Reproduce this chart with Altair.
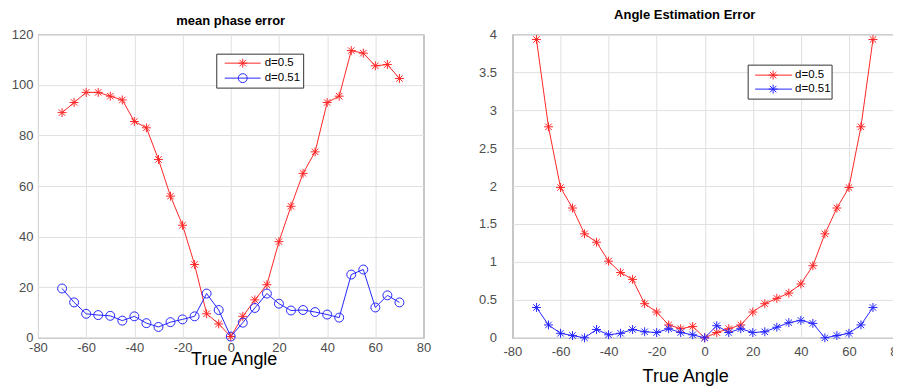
import altair as alt
import pandas as pd

# ---------------- data ----------------
angles = list(range(-70, 75, 5))
series_names = ["d=0.5", "d=0.51"]

phase_d050 = [89, 93, 97, 97, 95.5, 94, 85.5, 83, 70.5, 56, 44.5, 29, 9.5, 5.5, 0.5,
              8.5, 15, 21, 38, 52, 65, 73.5, 93, 95.5, 113.5, 112.5, 107.5, 108, 102.5]
phase_d051 = [19.5, 14, 9.5, 9, 8.7, 6.8, 8.5, 5.8, 4.3, 6.2, 7.3, 8.5, 17.5, 11, 0.5,
              6, 11.8, 17.5, 13.5, 10.8, 11, 10.2, 9.2, 8, 25, 27, 12, 16.8, 14]

est_d050 = [3.93, 2.78, 1.98, 1.71, 1.37, 1.26, 1.01, 0.86, 0.77, 0.45, 0.34, 0.17, 0.12, 0.15, 0.0,
            0.07, 0.12, 0.17, 0.34, 0.45, 0.52, 0.59, 0.71, 0.95, 1.37, 1.71, 1.98, 2.78, 3.93]
est_d051 = [0.40, 0.17, 0.06, 0.03, 0.0, 0.11, 0.04, 0.06, 0.11, 0.08, 0.07, 0.12, 0.07, 0.04, 0.0,
            0.16, 0.07, 0.12, 0.07, 0.08, 0.14, 0.20, 0.23, 0.19, 0.0, 0.03, 0.06, 0.17, 0.40]

x_ticks = list(range(-80, 81, 20))
phase_ticks = list(range(0, 121, 20))
est_ticks = [0, 0.5, 1, 1.5, 2, 2.5, 3, 3.5, 4]

# ---------------- style ----------------
RED = "#ff2626"
BLUE = "#2626ff"
STAR = "M-1,0L1,0M0,-1L0,1M-0.72,-0.72L0.72,0.72M-0.72,0.72L0.72,-0.72"
FONT = "Liberation Sans"


def long_df(a, b):
    n = len(angles)
    return pd.DataFrame({
        "angle": angles * 2,
        "value": a + b,
        "series": [series_names[0]] * n + [series_names[1]] * n,
    })


def panel(df, width, ymax, yticks, shapes, title, title_offset, title_dx,
          xlab_pad, ylab_pad, xtitle_x, xtitle_y, legend):
    color = alt.Color("series:N", scale=alt.Scale(domain=series_names, range=[RED, BLUE]), legend=None)
    shape = alt.Shape("series:N", scale=alt.Scale(domain=series_names, range=shapes), legend=None)
    x = alt.X("angle:Q", scale=alt.Scale(domain=[-80, 80], nice=False, zero=False),
              axis=alt.Axis(values=x_ticks, title="True Angle", labelPadding=xlab_pad,
                            labelFlush=False, labelExpr="'' + datum.value",
                            titleX=xtitle_x, titleY=xtitle_y, titleBaseline="alphabetic",
                            titleAlign="center", titleFontSize=18, titleFontWeight="normal",
                            titleColor="#000000", titleFont=FONT))
    y = alt.Y("value:Q", scale=alt.Scale(domain=[0, ymax], nice=False),
              axis=alt.Axis(values=yticks, title=None, labelPadding=ylab_pad,
                            labelExpr="'' + datum.value"))

    base = alt.Chart(df)
    line = base.mark_line(strokeWidth=1).encode(x=x, y=y, color=color)
    pts = base.mark_point(filled=False, strokeWidth=1, size=80, opacity=1).encode(
        x=x, y=y, color=color, shape=shape)

    layers = [line, pts]

    # legend box
    (bx1, bx2, by1, by2, lx1, lx2, mx, tx, rows) = legend
    box = alt.Chart(pd.DataFrame({"k": [0]})).mark_rect(
        fill="white", stroke="#333333", strokeWidth=1).encode(
        x=alt.value(bx1), x2=alt.value(bx2), y=alt.value(by1), y2=alt.value(by2))
    layers.append(box)
    leg_df = pd.DataFrame({"series": series_names})
    for name, ry in zip(series_names, rows):
        sub = alt.Chart(leg_df).transform_filter(alt.datum.series == name)
        layers.append(sub.mark_rule(strokeWidth=1).encode(
            x=alt.value(lx1), x2=alt.value(lx2), y=alt.value(ry), color=color))
        layers.append(sub.mark_point(filled=False, strokeWidth=1, size=80, opacity=1).encode(
            x=alt.value(mx), y=alt.value(ry), color=color, shape=shape))
        layers.append(sub.mark_text(align="left", baseline="middle", fontSize=11.5,
                                    font=FONT, color="#000000").encode(
            x=alt.value(tx), y=alt.value(ry), text="series:N"))

    return alt.layer(*layers).properties(
        width=width, height=304,
        title=alt.TitleParams(title, fontSize=13, fontWeight="bold", font=FONT,
                              color="#000000", baseline="alphabetic",
                              offset=title_offset, dx=title_dx, anchor="middle"),
    )


left = panel(long_df(phase_d050, phase_d051), 386, 120, phase_ticks, [STAR, "circle"],
             "mean phase error", -10, 0, 4, 5, 196, 27,
             (179, 266, 20, 54, 187, 223, 205, 227, [29, 44]))
right = panel(long_df(est_d050, est_d051), 385, 4, est_ticks, [STAR, STAR],
              "Angle Estimation Error", -4, -20, 8, 16, 173, 44,
              (236, 320, 31, 65, 243, 280, 261, 283, [41, 55]))

chart = alt.hconcat(left, right, spacing=89, bounds="flush").resolve_scale(
    shape="independent"
).properties(
    padding={"left": 2, "top": 0, "right": -12, "bottom": 0},
    background="white",
).configure_view(
    stroke="#5a5a5a", strokeWidth=1
).configure_axis(
    domain=False, ticks=False, grid=True, gridColor="#e0e0e0", gridWidth=1,
    labelFont=FONT, labelFontSize=13, labelColor="#4d4d4d",
)

chart.save("out.html", embed_options={"renderer": "svg", "actions": False})
